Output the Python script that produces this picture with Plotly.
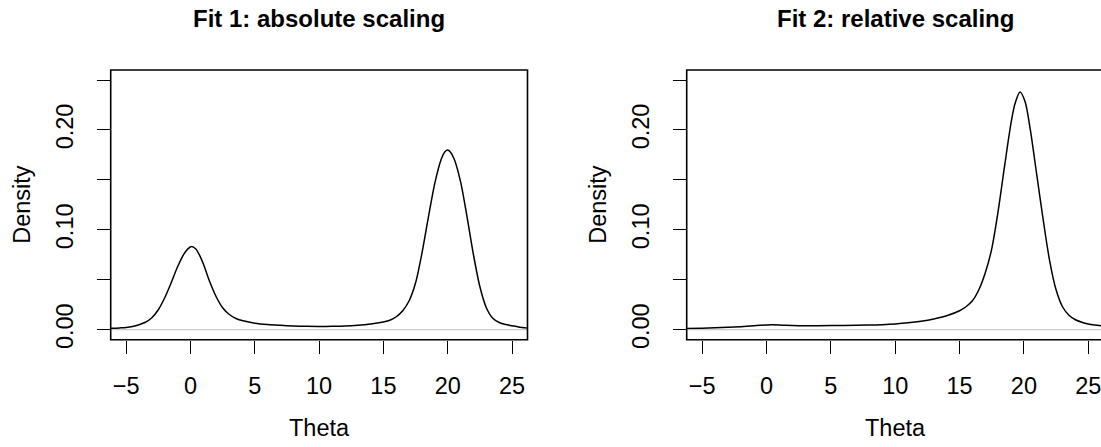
import plotly.graph_objects as go

# ---- data ----
theta_fit1 = [-6.2, -5.5, -5.0, -4.5, -4.0, -3.5, -3.0, -2.5, -2.0, -1.5, -1.0, -0.5, -0.2, 0.1, 0.4,
              0.75, 1.0, 1.5, 2.0, 2.5, 3.0, 3.5, 4.0, 5.0, 6.0, 7.0, 8.0, 9.0, 10.0, 11.0, 12.0,
              13.0, 14.0, 14.5, 15.0, 15.5, 16.0, 16.5, 17.0, 17.5, 18.0, 18.5, 19.0, 19.5, 19.8,
              20.0, 20.2, 20.5, 21.0, 21.5, 22.0, 22.5, 23.0, 23.5, 24.0, 24.5, 25.0, 25.5, 26.2]
density_fit1 = [0.0014, 0.0018, 0.0022, 0.0032, 0.0050, 0.0075, 0.0120, 0.0200, 0.0320, 0.0470,
                0.0630, 0.0760, 0.0810, 0.0833, 0.0810, 0.0735, 0.0660, 0.0480, 0.0330, 0.0220,
                0.0155, 0.0115, 0.0092, 0.0066, 0.0052, 0.0044, 0.0038, 0.0034, 0.0033, 0.0034,
                0.0037, 0.0045, 0.0058, 0.0068, 0.0078, 0.0095, 0.0130, 0.0190, 0.0290, 0.0470,
                0.0770, 0.1130, 0.1470, 0.1710, 0.1785, 0.1800, 0.1780, 0.1710, 0.1480, 0.1130,
                0.0750, 0.0430, 0.0220, 0.0115, 0.0072, 0.0052, 0.0040, 0.0028, 0.0016]

theta_fit2 = [-6.2, -5.0, -4.0, -3.0, -2.0, -1.0, -0.5, 0.0, 0.5, 1.0, 1.5, 2.5, 4.0, 6.0, 8.0,
              9.0, 10.0, 11.0, 12.0, 13.0, 14.0, 15.0, 15.5, 16.0, 16.5, 17.0, 17.5, 18.0, 18.5,
              19.0, 19.3, 19.7, 20.1, 20.5, 21.0, 21.5, 22.0, 22.5, 23.0, 23.5, 24.0, 24.5, 25.0,
              25.5, 26.2]
density_fit2 = [0.0013, 0.0016, 0.0019, 0.0024, 0.0031, 0.0040, 0.0045, 0.0048, 0.0049, 0.0047,
                0.0044, 0.0041, 0.0041, 0.0043, 0.0047, 0.0051, 0.0058, 0.0069, 0.0085, 0.0108,
                0.0140, 0.0190, 0.0230, 0.0290, 0.0400, 0.0570, 0.0810, 0.1190, 0.1640, 0.2070,
                0.2260, 0.2380, 0.2280, 0.2000, 0.1550, 0.1100, 0.0690, 0.0400, 0.0230, 0.0145,
                0.0100, 0.0075, 0.0058, 0.0048, 0.0038]

titles = ["Fit 1: absolute scaling", "Fit 2: relative scaling"]
x_label = "Theta"
y_label = "Density"
x_ticks = [-5, 0, 5, 10, 15, 20, 25]
x_ticktext = ["\u22125", "0", "5", "10", "15", "20", "25"]
y_ticks = [0.0, 0.05, 0.10, 0.15, 0.20, 0.25]
y_ticktext = ["0.00", "", "0.10", "", "0.20", ""]

# ---- layout geometry (pixels of a 1101 x 447 canvas) ----
W, H = 1101, 447
FONT = "Liberation Sans, Arial, Helvetica, sans-serif"
panels = [
    dict(x0=110.7, x1=527.5, xr=[-6.2, 26.2], cx=319.0, box_x1=1.0),
    dict(x0=686.7, x1=1101.0, xr=[-6.2, 25.99], cx=895.0, box_x1=1.02),
]
top_px, bot_px = 71.5, 346.7

fig = go.Figure()
series = [(theta_fit1, density_fit1), (theta_fit2, density_fit2)]

for i, (p, (xs, ys)) in enumerate(zip(panels, series)):
    sfx = "" if i == 0 else str(i + 1)
    fig.add_trace(go.Scatter(x=xs, y=ys, mode="lines",
                             line=dict(color="black", width=1.5, shape="spline", smoothing=0.8),
                             xaxis="x" + sfx, yaxis="y" + sfx, showlegend=False,
                             hoverinfo="skip"))
    axis_common = dict(showgrid=False, zeroline=False, showline=False,
                       ticks="outside", ticklen=13, tickwidth=1.3, tickcolor="black",
                       ticklabeloverflow="allow",
                       tickfont=dict(family=FONT, size=23.5, color="black"))
    fig.layout["xaxis" + sfx] = dict(
        domain=[p["x0"] / W, p["x1"] / W], range=p["xr"], anchor="y" + sfx,
        tickmode="array", tickvals=x_ticks, ticktext=x_ticktext,
        ticklabelstandoff=12, **axis_common)
    fig.layout["yaxis" + sfx] = dict(
        domain=[1 - bot_px / H, 1 - top_px / H], range=[-0.01, 0.26], anchor="x" + sfx,
        tickmode="array", tickvals=y_ticks, ticktext=y_ticktext, tickangle=-90,
        ticklabelstandoff=14, **axis_common)
    # zero line (gray)
    fig.add_shape(type="line", xref="x" + sfx + " domain", yref="y" + sfx,
                  x0=0, x1=1, y0=0, y1=0, line=dict(color="#BEBEBE", width=1.2))
    # box around the plot region
    fig.add_shape(type="rect", xref="x" + sfx + " domain", yref="y" + sfx + " domain",
                  x0=0, x1=p["box_x1"], y0=0, y1=1, line=dict(color="black", width=1.6))
    # title
    fig.add_annotation(text="<b>" + titles[i] + "</b>", xref="paper", yref="paper",
                       x=p["cx"] / W, y=1 - 19 / H, xanchor="center", yanchor="middle",
                       showarrow=False, font=dict(family=FONT, size=24, color="black"))
    # x label
    fig.add_annotation(text=x_label, xref="paper", yref="paper",
                       x=p["cx"] / W, y=1 - 437 / H, xanchor="center", yanchor="middle",
                       showarrow=False, font=dict(family=FONT, size=23.5, color="black"))
    # y label
    fig.add_annotation(text=y_label, xref="paper", yref="paper",
                       x=(p["x0"] - 88.7) / W, y=1 - 209 / H, xanchor="center", yanchor="middle",
                       textangle=-90, showarrow=False,
                       font=dict(family=FONT, size=23.5, color="black"))

fig.update_layout(width=W, height=H, margin=dict(l=0, r=0, t=0, b=0, pad=0),
                  paper_bgcolor="white", plot_bgcolor="white", showlegend=False)

fig.write_html("out.html", config={"displayModeBar": False},
               post_script="document.body.style.margin='0';document.body.style.overflow='hidden';")
